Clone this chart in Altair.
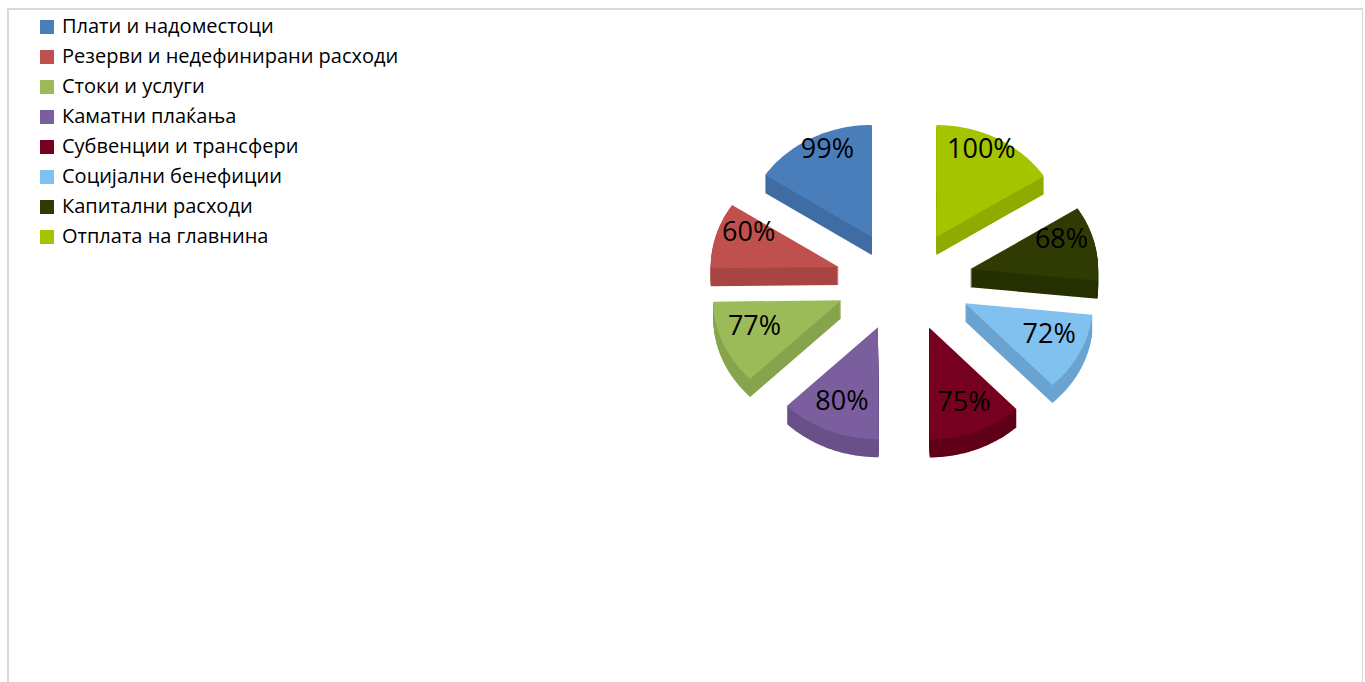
import altair as alt
import pandas as pd

# ---- data ----
categories = [
    "Плати и надоместоци",
    "Резерви и недефинирани расходи",
    "Стоки и услуги",
    "Каматни плаќања",
    "Субвенции и трансфери",
    "Социјални бенефиции",
    "Капитални расходи",
    "Отплата на главнина",
]
values = [99, 60, 77, 80, 75, 72, 68, 100]
labels = ["99%", "60%", "77%", "80%", "75%", "72%", "68%", "100%"]
top_colors = ["#4a7ebb", "#c0504d", "#9bbb59", "#7b5e9e", "#76001f", "#80c1f0", "#2f3b02", "#a5c400"]
side_colors = ["#3f6da3", "#a84543", "#86a44b", "#6a5089", "#5f0018", "#6aa3d0", "#243000", "#90ab00"]

# slices run counter-clockwise in legend order -> clockwise order is reversed
df = pd.DataFrame({
    "cat": categories,
    "value": values,
    "label": labels,
    "ord": list(range(len(categories)))[::-1],
})

# ---- layout (pixels inside the plot frame) ----
W, H = 1355, 700
CX, CY = 896, 272          # pie centre
RX, RY = 128, 112          # ellipse radii of the top face
DX, DY = 68, 50            # explosion offsets
DEPTH = 18                 # side thickness
FX, FY, S = 94, 90, 8      # label placement
N = 48                     # arc resolution

xs = alt.Scale(domain=[0, W], nice=False, zero=False)
ys = alt.Scale(domain=[0, H], nice=False, zero=False, reverse=True)

base = (
    alt.Chart(df)
    .transform_window(cum="sum(value)", sort=[alt.SortField("ord")], frame=[None, 0])
    .transform_joinaggregate(total="sum(value)")
    .transform_calculate(
        a0="2*PI*(datum.cum - datum.value)/datum.total",
        a1="2*PI*datum.cum/datum.total",
    )
    .transform_calculate(m="(datum.a0 + datum.a1)/2")
    .transform_calculate(
        vx=f"{CX} + {DX}*sin(datum.m)",
        vy=f"{CY} - {DY}*cos(datum.m)",
    )
)

poly = (
    base.transform_calculate(k=f"sequence(0, {N + 2})")
    .transform_flatten(["k"])
    .transform_calculate(ang=f"datum.a0 + (datum.k - 1)/{N}*(datum.a1 - datum.a0)")
    .transform_calculate(
        px=f"datum.k == 0 ? datum.vx : datum.vx + {RX}*sin(datum.ang)",
        py=f"datum.k == 0 ? datum.vy : datum.vy - {RY}*cos(datum.ang)",
    )
)

sides = (
    poly.transform_calculate(t=f"sequence(1, {DEPTH + 1})")
    .transform_flatten(["t"])
    .transform_calculate(py2="datum.py + datum.t")
    .mark_line(interpolate="linear-closed", filled=True, strokeWidth=0)
    .encode(
        x=alt.X("px:Q", scale=xs, axis=None),
        y=alt.Y("py2:Q", scale=ys, axis=None),
        fill=alt.Fill("cat:N", scale=alt.Scale(domain=categories, range=side_colors), legend=None),
        detail=["cat:N", "t:Q"],
        order=alt.Order("k:Q"),
    )
)

tops = poly.mark_line(interpolate="linear-closed", filled=True, strokeWidth=0).encode(
    x=alt.X("px:Q", scale=xs, axis=None),
    y=alt.Y("py:Q", scale=ys, axis=None),
    color=alt.Color(
        "cat:N",
        scale=alt.Scale(domain=categories, range=top_colors),
        sort=categories,
        legend=alt.Legend(
            title=None,
            orient="none",
            legendX=29,
            legendY=8,
            symbolType="square",
            symbolSize=196,
            symbolStrokeWidth=0,
            symbolOpacity=1,
            labelFont="Open Sans",
            labelFontSize=20,
            labelColor="#000000",
            rowPadding=10,
            labelOffset=5,
            labelLimit=600,
            padding=0,
        ),
    ),
    detail="cat:N",
    order=alt.Order("k:Q"),
)

text = (
    base.transform_calculate(
        lx=f"datum.vx + {FX}*sin(datum.m)",
        ly=f"datum.vy - {FY}*cos(datum.m) - {S}",
    )
    .mark_text(font="Open Sans", fontSize=27, color="#000000", align="center", baseline="middle")
    .encode(
        x=alt.X("lx:Q", scale=xs, axis=None),
        y=alt.Y("ly:Q", scale=ys, axis=None),
        text="label:N",
    )
)

chart = (
    alt.layer(sides, tops, text)
    .resolve_scale(fill="independent", color="independent")
    .properties(
        width=W,
        height=H,
        autosize=alt.AutoSizeParams(type="none"),
        padding={"left": 8, "top": 9, "right": 0, "bottom": 0},
        background="#ffffff",
    )
    .configure_view(stroke="#d9d9d9", strokeWidth=2)
)

chart.save("out.html", embed_options={"renderer": "svg", "actions": False})
